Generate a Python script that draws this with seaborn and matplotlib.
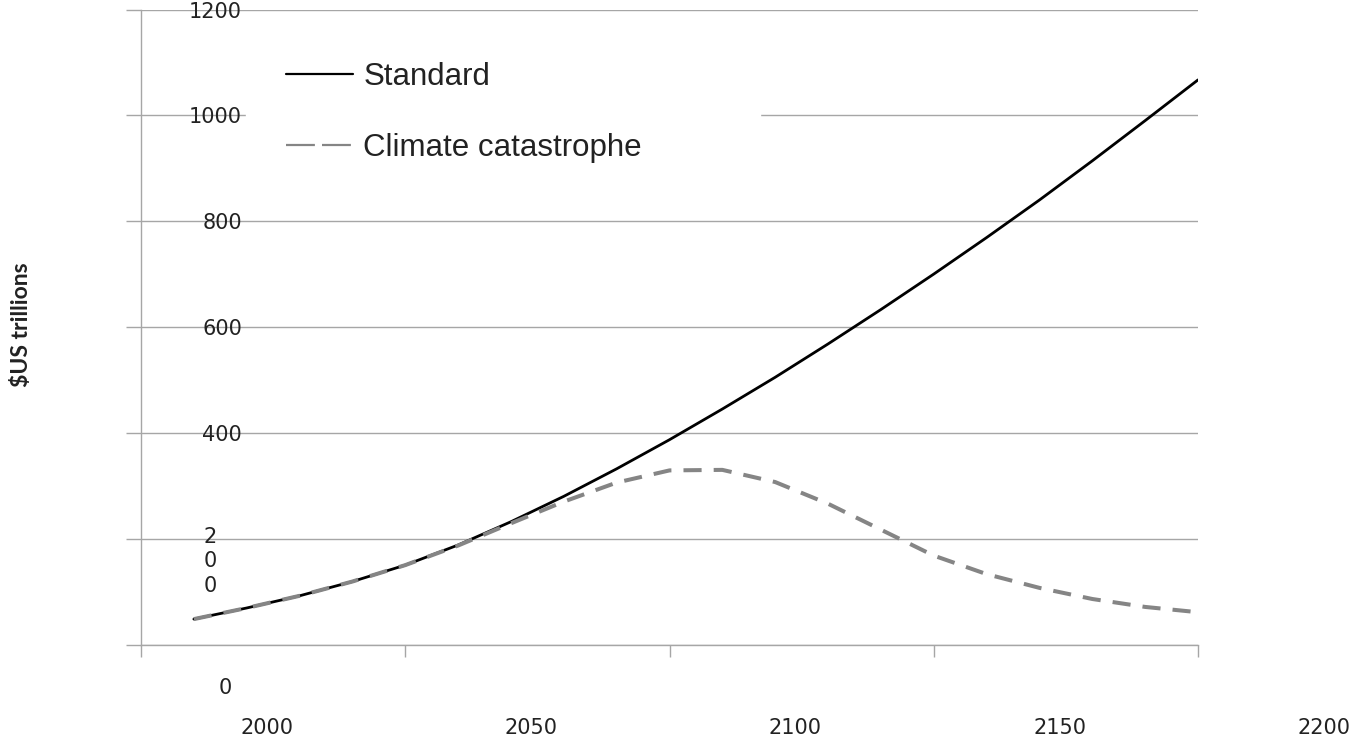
import matplotlib
matplotlib.use("Agg")
import matplotlib.pyplot as plt
import matplotlib.transforms as mtransforms
from matplotlib.lines import Line2D
import pandas as pd
import seaborn as sns

# values ($US trillions)
years = [1990, 2000, 2010, 2020, 2030, 2040, 2050, 2060, 2070, 2080,
         2090, 2100, 2110, 2120, 2130, 2140, 2150, 2160, 2170, 2180]
standard = [48, 69, 92, 119, 150, 188, 232, 280, 332, 387,
            445, 505, 568, 633, 700, 769, 840, 914, 990, 1067]
climate = [48, 69, 92, 119, 150, 187, 229, 270, 306, 329,
           330, 307, 266, 217, 168, 133, 107, 86, 71, 61]
series_names = ["Standard", "Climate catastrophe"]
y_ticks = [0, 200, 400, 600, 800, 1000, 1200]
y_labels = ["", "", "400", "600", "800", "1000", "1200"]
x_ticks = [1980, 2030, 2080, 2130, 2180]
x_labels = ["2000", "2050", "2100", "2150", "2200"]

df = pd.DataFrame({
    "year": years * 2,
    "value": standard + climate,
    "scenario": [series_names[0]] * len(years) + [series_names[1]] * len(years),
})

sns.set_style("white")
plt.rcParams["font.family"] = ["DejaVu Sans"]

grid_col = "#a6a6a6"
text_col = "#222222"
tick_size = 15

fig = plt.figure(figsize=(13.6, 7.41), dpi=100)
ax = fig.add_axes([141 / 1360, 1 - 644.5 / 741, 1057 / 1360, 635 / 741])

sns.lineplot(
    data=df, x="year", y="value",
    hue="scenario", style="scenario", size="scenario",
    hue_order=series_names, style_order=series_names, size_order=series_names,
    palette={"Standard": "black", "Climate catastrophe": "#858585"},
    dashes={"Standard": "", "Climate catastrophe": (4.5, 3)},
    sizes={"Standard": 2.0, "Climate catastrophe": 2.9},
    legend=False, ax=ax,
)

ax.set_xlim(1980, 2180)
ax.set_ylim(0, 1200)
ax.set_xlabel("")
ax.set_ylabel("")

# spines and grid
for side in ["top", "right"]:
    ax.spines[side].set_visible(False)
for side in ["left", "bottom"]:
    ax.spines[side].set_color(grid_col)
    ax.spines[side].set_linewidth(1)
ax.yaxis.grid(True, color=grid_col, linewidth=1)
ax.xaxis.grid(False)
ax.set_axisbelow(True)

ax.set_yticks(y_ticks)
ax.set_yticklabels(y_labels)
ax.tick_params(axis="y", left=True, direction="out", length=10.8, width=1,
               color=grid_col, pad=-83.5, labelsize=tick_size, labelcolor=text_col)
ax.set_xticks(x_ticks)
ax.set_xticklabels([""] * len(x_ticks))
ax.tick_params(axis="x", bottom=True, direction="out", length=8.6, width=1,
               color=grid_col)

# odd label placements from the original
ytrans = mtransforms.blended_transform_factory(ax.transAxes, ax.transData)
ax.annotate("2\n0\n0", xy=(0, 200), xycoords=ytrans, xytext=(69, 12),
            textcoords="offset pixels", ha="center", va="top", linespacing=1.3,
            fontsize=tick_size, color=text_col)
ax.annotate("0", xy=(0, 0), xycoords=ytrans, xytext=(84, -44),
            textcoords="offset pixels", ha="center", va="center",
            fontsize=tick_size, color=text_col, annotation_clip=False)

xtrans = mtransforms.blended_transform_factory(ax.transData, ax.transAxes)
for pos, lab in zip(x_ticks, x_labels):
    ax.annotate(lab, xy=(pos, 0), xycoords=xtrans, xytext=(126, -83.5),
                textcoords="offset pixels", ha="center", va="center",
                fontsize=tick_size, color=text_col, annotation_clip=False)

fig.text(22 / 1360, 1 - 325 / 741, r"\$US trillions", rotation=90,
         ha="center", va="center", fontsize=16.5, fontweight="bold",
         family=["Lato", "DejaVu Sans"], color=text_col)

handles = [
    Line2D([], [], color="black", linewidth=1.6),
    Line2D([], [], color="#858585", linewidth=1.6, dashes=(13, 3.2)),
]
leg = ax.legend(
    handles, series_names, loc="upper left",
    bbox_to_anchor=(246 / 1360, 1 - 210 / 741, 514 / 1360, 188 / 741),
    bbox_transform=fig.transFigure, mode="expand", borderaxespad=0,
    frameon=True, fancybox=False, framealpha=1, facecolor="white",
    edgecolor="white", borderpad=1.27, labelspacing=1.32,
    handlelength=2.14, handletextpad=0.34,
    prop={"family": ["Liberation Sans", "DejaVu Sans"], "size": 22.5},
)
for t in leg.get_texts():
    t.set_color(text_col)

fig.savefig("out.png", dpi=100, facecolor="white")
